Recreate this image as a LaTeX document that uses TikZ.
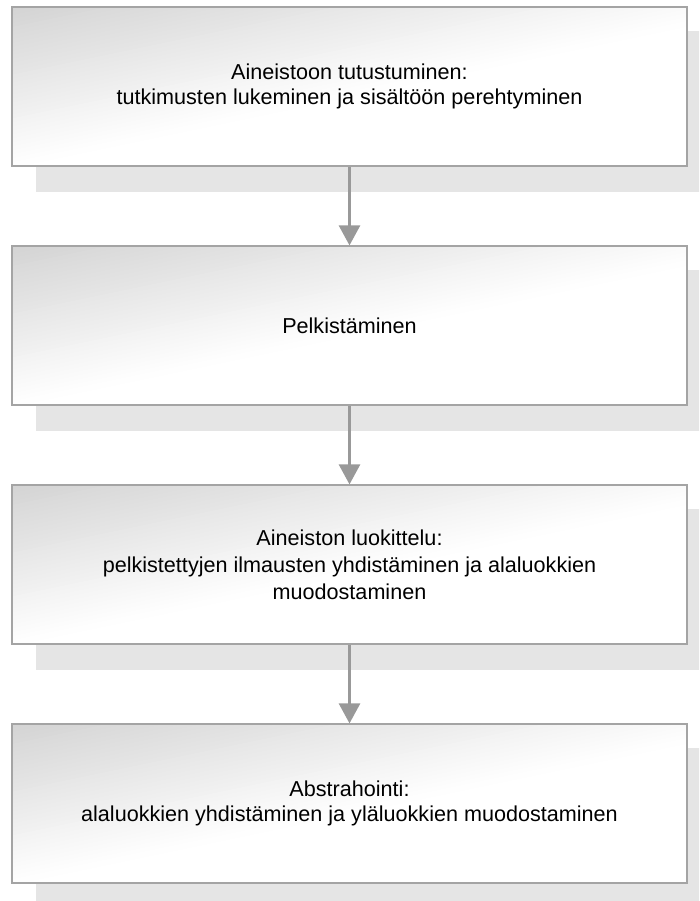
\documentclass[tikz,border=0pt]{standalone}
\usepackage{fontspec}
\setmainfont{Liberation Sans}
\usetikzlibrary{arrows.meta,backgrounds}
\definecolor{boxborder}{HTML}{A4A4A4}
\definecolor{shadowgray}{HTML}{E5E5E5}
\definecolor{arrowgray}{HTML}{999999}
\tikzset{
  stepbox/.style={draw=boxborder, line width=1.2pt,
    minimum width=675pt, minimum height=159pt, inner sep=0pt, align=center,
    font=\fontsize{21.6}{25}\selectfont},
  boxshadow/.style={fill=shadowgray, draw=none},
  flowarrow/.style={draw=arrowgray, line width=2.7pt,
    -{Triangle[length=20pt,width=21pt]}}
}
\begin{document}
\begin{tikzpicture}[x=1pt,y=-1pt]
  \useasboundingbox (0,0) rectangle (699,901);
  \node[stepbox] (b1) at (349.5,86.5)
    {Aineistoon tutustuminen:\\tutkimusten lukeminen ja sisältöön perehtyminen};
  \node[stepbox] (b2) at (349.5,325.5) {Pelkistäminen};
  \node[stepbox, font=\fontsize{21.6}{27}\selectfont] (b3) at (349.5,564.5)
    {Aineiston luokittelu:\\pelkistettyjen ilmausten yhdistäminen ja alaluokkien\\muodostaminen};
  \node[stepbox] (b4) at (349.5,803.5)
    {Abstrahointi:\\alaluokkien yhdistäminen ja yläluokkien muodostaminen};
  \begin{scope}[on background layer]
    \clip (0,0) rectangle (699,901);
    \foreach \b in {b1,b2,b3,b4} {
      \fill[boxshadow] ([shift={(25,25)}]\b.north west) rectangle ([shift={(25,25)}]\b.south east);
    }
    % gradient fill of each box: grey at top left, white towards bottom right
    \foreach \T in {7,246,485,724} {
      \begin{scope}
        \clip (12,\T) rectangle (687,\T+159);
        \fill[white] (12,\T) rectangle (687,\T+159);
        \foreach \i in {0,...,39} {
          \pgfmathsetmacro{\ta}{\T+159*\i/40}
          \pgfmathsetmacro{\tb}{\T+159*(\i+1.4)/40}
          \pgfmathsetmacro{\gv}{83+17*(\i+0.5)/40}
          \fill[white!\gv!black]
            (7,\ta+1.046) -- (702,\ta-144.36) --
            (702,\tb-144.36) -- (7,\tb+1.046) -- cycle;
        }
      \end{scope}
    }
  \end{scope}
  \draw[flowarrow] (b1.south) -- (b2.north);
  \draw[flowarrow] (b2.south) -- (b3.north);
  \draw[flowarrow] (b3.south) -- (b4.north);
\end{tikzpicture}
\end{document}
